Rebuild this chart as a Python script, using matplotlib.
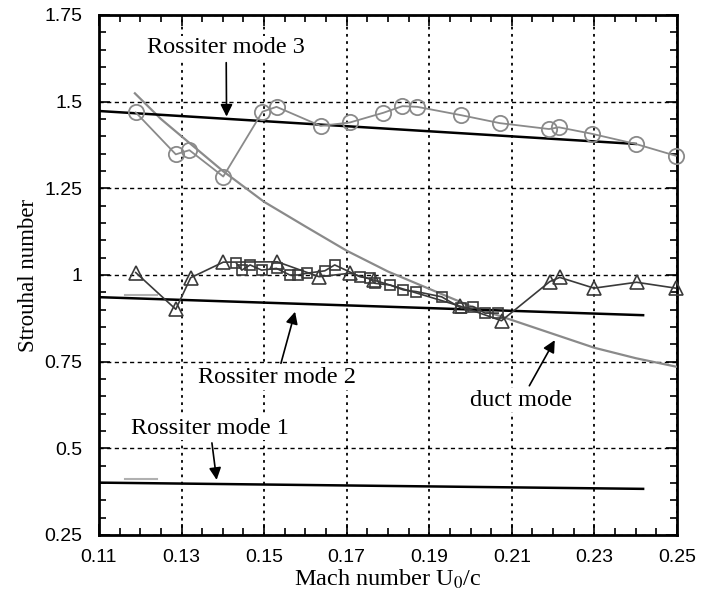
import matplotlib
matplotlib.use('Agg')
import matplotlib.pyplot as plt
from matplotlib.ticker import MultipleLocator

plt.rcParams['mathtext.fontset'] = 'stix'

# circles (gray)
circ_m = [0.1189, 0.1286, 0.1319, 0.1401, 0.1496, 0.1530, 0.1637, 0.1708, 0.1789,
          0.1835, 0.1871, 0.1977, 0.2071, 0.2190, 0.2214, 0.2295, 0.2400, 0.2497]
circ_st = [1.469, 1.348, 1.360, 1.284, 1.471, 1.485, 1.430, 1.440, 1.468,
           1.487, 1.485, 1.461, 1.438, 1.421, 1.426, 1.407, 1.378, 1.344]

# triangles
tri_m = [0.1189, 0.1286, 0.1322, 0.1401, 0.1532, 0.1633, 0.1708, 0.1766, 0.1975,
         0.2075, 0.2192, 0.2216, 0.2299, 0.2402, 0.2497]
tri_st = [1.007, 0.901, 0.992, 1.037, 1.038, 0.995, 1.005, 0.985, 0.910,
          0.868, 0.981, 0.993, 0.962, 0.979, 0.962]

# squares
sq_m = [0.1433, 0.1446, 0.1466, 0.1494, 0.1530, 0.1562, 0.1583, 0.1603, 0.1647,
        0.1671, 0.1732, 0.1756, 0.1768, 0.1805, 0.1837, 0.1869, 0.1930, 0.1978,
        0.2006, 0.2035, 0.2067]
sq_st = [1.034, 1.014, 1.029, 1.014, 1.019, 1.000, 1.000, 1.005, 1.012,
         1.029, 0.995, 0.990, 0.976, 0.971, 0.957, 0.952, 0.937, 0.904,
         0.909, 0.890, 0.890]

# duct mode curve
duct_m = [0.1187, 0.125, 0.13, 0.14, 0.15, 0.16, 0.17, 0.18, 0.19, 0.20,
          0.21, 0.22, 0.23, 0.24, 0.25]
duct_st = [1.524, 1.45, 1.40, 1.30, 1.211, 1.14, 1.07, 1.01, 0.96, 0.91,
           0.87, 0.83, 0.79, 0.76, 0.735]

# Rossiter modes (end points)
ross_m = [0.11, 0.2418]
ross1 = [0.401, 0.383]
ross2 = [0.936, 0.884]
ross3_m = [0.11, 0.240]
ross3 = [1.473, 1.378]

# short gray stubs near the left end of modes 1 and 2
stub_m = [0.1163, 0.1240]
stub1 = [0.412, 0.412]
stub2 = [0.942, 0.942]

xticks = [0.11, 0.13, 0.15, 0.17, 0.19, 0.21, 0.23, 0.25]
xlabels = ['0.11', '0.13', '0.15', '0.17', '0.19', '0.21', '0.23', '0.25']
yticks = [0.25, 0.5, 0.75, 1.0, 1.25, 1.5, 1.75]
ylabels = ['0.25', '0.5', '0.75', '1', '1.25', '1.5', '1.75']

fig = plt.figure(figsize=(7.04, 5.97), dpi=100)
ax = fig.add_axes([0.1406, 0.1039, 0.8210, 0.8710])

gray = '#8a8a8a'
dark = '#3a3a3a'

ax.plot(duct_m, duct_st, color=gray, lw=1.6, zorder=3)
ax.plot(stub_m, stub1, color='#b0b0b0', lw=1.5, zorder=3)
ax.plot(stub_m, stub2, color='#b0b0b0', lw=1.5, zorder=3)
ax.plot(ross_m, ross1, color='black', lw=1.8, zorder=4)
ax.plot(ross_m, ross2, color='black', lw=1.8, zorder=4)
ax.plot(ross3_m, ross3, color='black', lw=1.8, zorder=4)

ax.plot(circ_m, circ_st, color=gray, lw=1.3, marker='o', ms=11,
        mfc='none', mec=gray, mew=1.3, zorder=5, clip_on=False)
ax.plot(tri_m, tri_st, color=dark, lw=1.2, marker='^', ms=10,
        mfc='none', mec=dark, mew=1.2, zorder=5, clip_on=False)
ax.plot(sq_m, sq_st, color=dark, lw=1.2, marker='s', ms=7,
        mfc='none', mec=dark, mew=1.2, zorder=5)

ax.set_xlim(0.11, 0.25)
ax.set_ylim(0.25, 1.75)
ax.set_xticks(xticks)
ax.set_xticklabels(xlabels, family='Liberation Sans', fontsize=14)
ax.set_yticks(yticks)
ax.set_yticklabels(ylabels, family='Liberation Sans', fontsize=14)
ax.xaxis.set_minor_locator(MultipleLocator(0.005))
ax.yaxis.set_minor_locator(MultipleLocator(0.05))
ax.tick_params(which='both', direction='in', top=True, right=True, width=1.2)
ax.tick_params(which='major', length=8)
ax.tick_params(axis='x', which='major', pad=10)
ax.tick_params(axis='y', which='major', pad=12)
ax.tick_params(which='minor', length=5)
for s in ax.spines.values():
    s.set_linewidth(2)

ax.xaxis.grid(True, linestyle=(0, (1.5, 2.5)), color='black', lw=1.3)
ax.yaxis.grid(True, linestyle=(0, (3, 2.5)), color='black', lw=1.0)
ax.set_axisbelow(True)

ax.set_xlabel('Mach number U$_0$/c', family='Liberation Serif', fontsize=17.5,
              labelpad=1)
ax.set_ylabel('Strouhal number', family='Liberation Serif', fontsize=16.5)

arrow = dict(arrowstyle='-|>', color='black', lw=1.2, mutation_scale=18,
             shrinkA=2, shrinkB=0)
box = dict(facecolor='white', edgecolor='none', pad=1)
txt = dict(family='Liberation Serif', fontsize=17.5, ha='center', va='center',
           bbox=box, zorder=6)
ax.annotate('Rossiter mode 3', xy=(0.1409, 1.457), xytext=(0.1408, 1.655),
            arrowprops=arrow, **txt)
ax.annotate('Rossiter mode 2', xy=(0.1575, 0.894), xytext=(0.1531, 0.703),
            arrowprops=arrow, **txt)
ax.annotate('Rossiter mode 1', xy=(0.1385, 0.409), xytext=(0.1369, 0.558),
            arrowprops=arrow, **txt)
ax.annotate('duct mode', xy=(0.2204, 0.812), xytext=(0.2123, 0.639),
            arrowprops=arrow, **txt)

plt.savefig('out.png', dpi=100)
